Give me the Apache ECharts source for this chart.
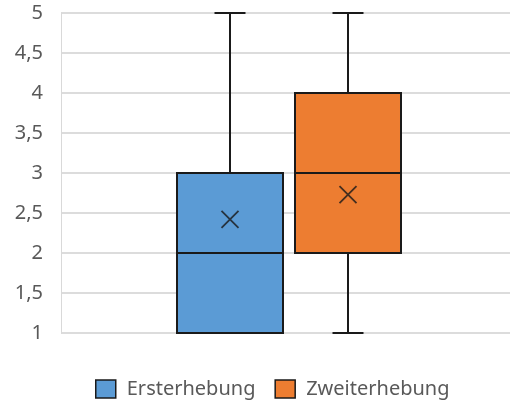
<!DOCTYPE html>
<html>
<head>
<meta charset="utf-8">
<script src="https://cdn.jsdelivr.net/npm/echarts@6/dist/echarts.min.js"></script>
<style>
  html, body { margin: 0; padding: 0; background: #fff; }
  #chart { width: 510px; height: 404px; }
</style>
</head>
<body>
<div id="chart"></div>
<script>
// values
const categories = ['Ersterhebung', 'Zweiterhebung'];
const minValues = [1, 1];
const q1Values = [1, 2];
const medianValues = [2, 3];
const q3Values = [3, 4];
const maxValues = [5, 5];
const meanValues = [2.42, 2.73];
const colors = ['#5B9BD5', '#ED7D31'];
const yMin = 1, yMax = 5, yStep = 0.5;

const font = '"Noto Sans", sans-serif';
const lineColor = '#1a1a1a';
const gridTop = 13, gridBottom = 71;
// one small grid per box so both boxes sit where excel put them
const boxLefts = [177, 295];
const boxWidth = 106;
const capWidth = 31;

let grids = [{ left: 61, right: 0, top: gridTop, bottom: gridBottom }];
let xAxes = [{ gridIndex: 0, type: 'category', data: [''], show: false }];
let yAxes = [{
    gridIndex: 0, type: 'value', min: yMin, max: yMax, interval: yStep,
    axisLine: { show: true, lineStyle: { color: '#d9d9d9', width: 1 } },
    axisTick: { show: false },
    splitLine: { lineStyle: { color: '#dcdcdc', width: 2 } },
    axisLabel: {
        color: '#595959', fontSize: 20, fontFamily: font, margin: 18,
        formatter: v => String(v).replace('.', ',')
    }
}];
let series = [];

categories.forEach((name, i) => {
    let g = grids.length;
    grids.push({ left: boxLefts[i], width: boxWidth, top: gridTop, bottom: gridBottom });
    // two x axes in the same grid, so whisker and box series are not grouped side by side
    let xw = xAxes.length;
    xAxes.push({ gridIndex: g, type: 'category', data: [name], show: false });
    let xb = xAxes.length;
    xAxes.push({ gridIndex: g, type: 'category', data: [name], show: false });
    let y = yAxes.length;
    yAxes.push({ gridIndex: g, type: 'value', min: yMin, max: yMax, show: false, splitLine: { show: false } });

    let item = [minValues[i], q1Values[i], medianValues[i], q3Values[i], maxValues[i]];
    series.push({
        name: name + ' Whisker',
        type: 'boxplot',
        xAxisIndex: xw, yAxisIndex: y,
        boxWidth: [capWidth, capWidth],
        z: 2,
        itemStyle: { color: colors[i], borderColor: lineColor, borderWidth: 2 },
        data: [item]
    });
    series.push({
        name: name,
        type: 'boxplot',
        xAxisIndex: xb, yAxisIndex: y,
        boxWidth: [boxWidth, boxWidth],
        z: 3,
        itemStyle: { color: colors[i], borderColor: lineColor, borderWidth: 2 },
        data: [[q1Values[i], q1Values[i], medianValues[i], q3Values[i], q3Values[i]]]
    });
    series.push({
        name: name + ' Mittelwert',
        type: 'scatter',
        xAxisIndex: xb, yAxisIndex: y,
        z: 4,
        symbol: 'path://M0,0L10,10M10,0L0,10',
        symbolSize: 17,
        itemStyle: { color: 'transparent', borderColor: lineColor, borderWidth: 1.8 },
        data: [[name, meanValues[i]]]
    });
});

let chart = echarts.init(document.getElementById('chart'));
chart.setOption({
    animation: false,
    grid: grids,
    xAxis: xAxes,
    yAxis: yAxes,
    legend: {
        data: categories.map((name, i) => ({
            name: name,
            itemStyle: { color: colors[i], borderColor: lineColor, borderWidth: 1.5 }
        })),
        left: 90,
        top: 374,
        icon: 'rect',
        itemWidth: 20,
        itemHeight: 18,
        itemGap: 19,
        textStyle: { color: '#595959', fontSize: 20, fontFamily: font, padding: [0, 0, 0, 6] }
    },
    series: series
});
</script>
</body>
</html>
